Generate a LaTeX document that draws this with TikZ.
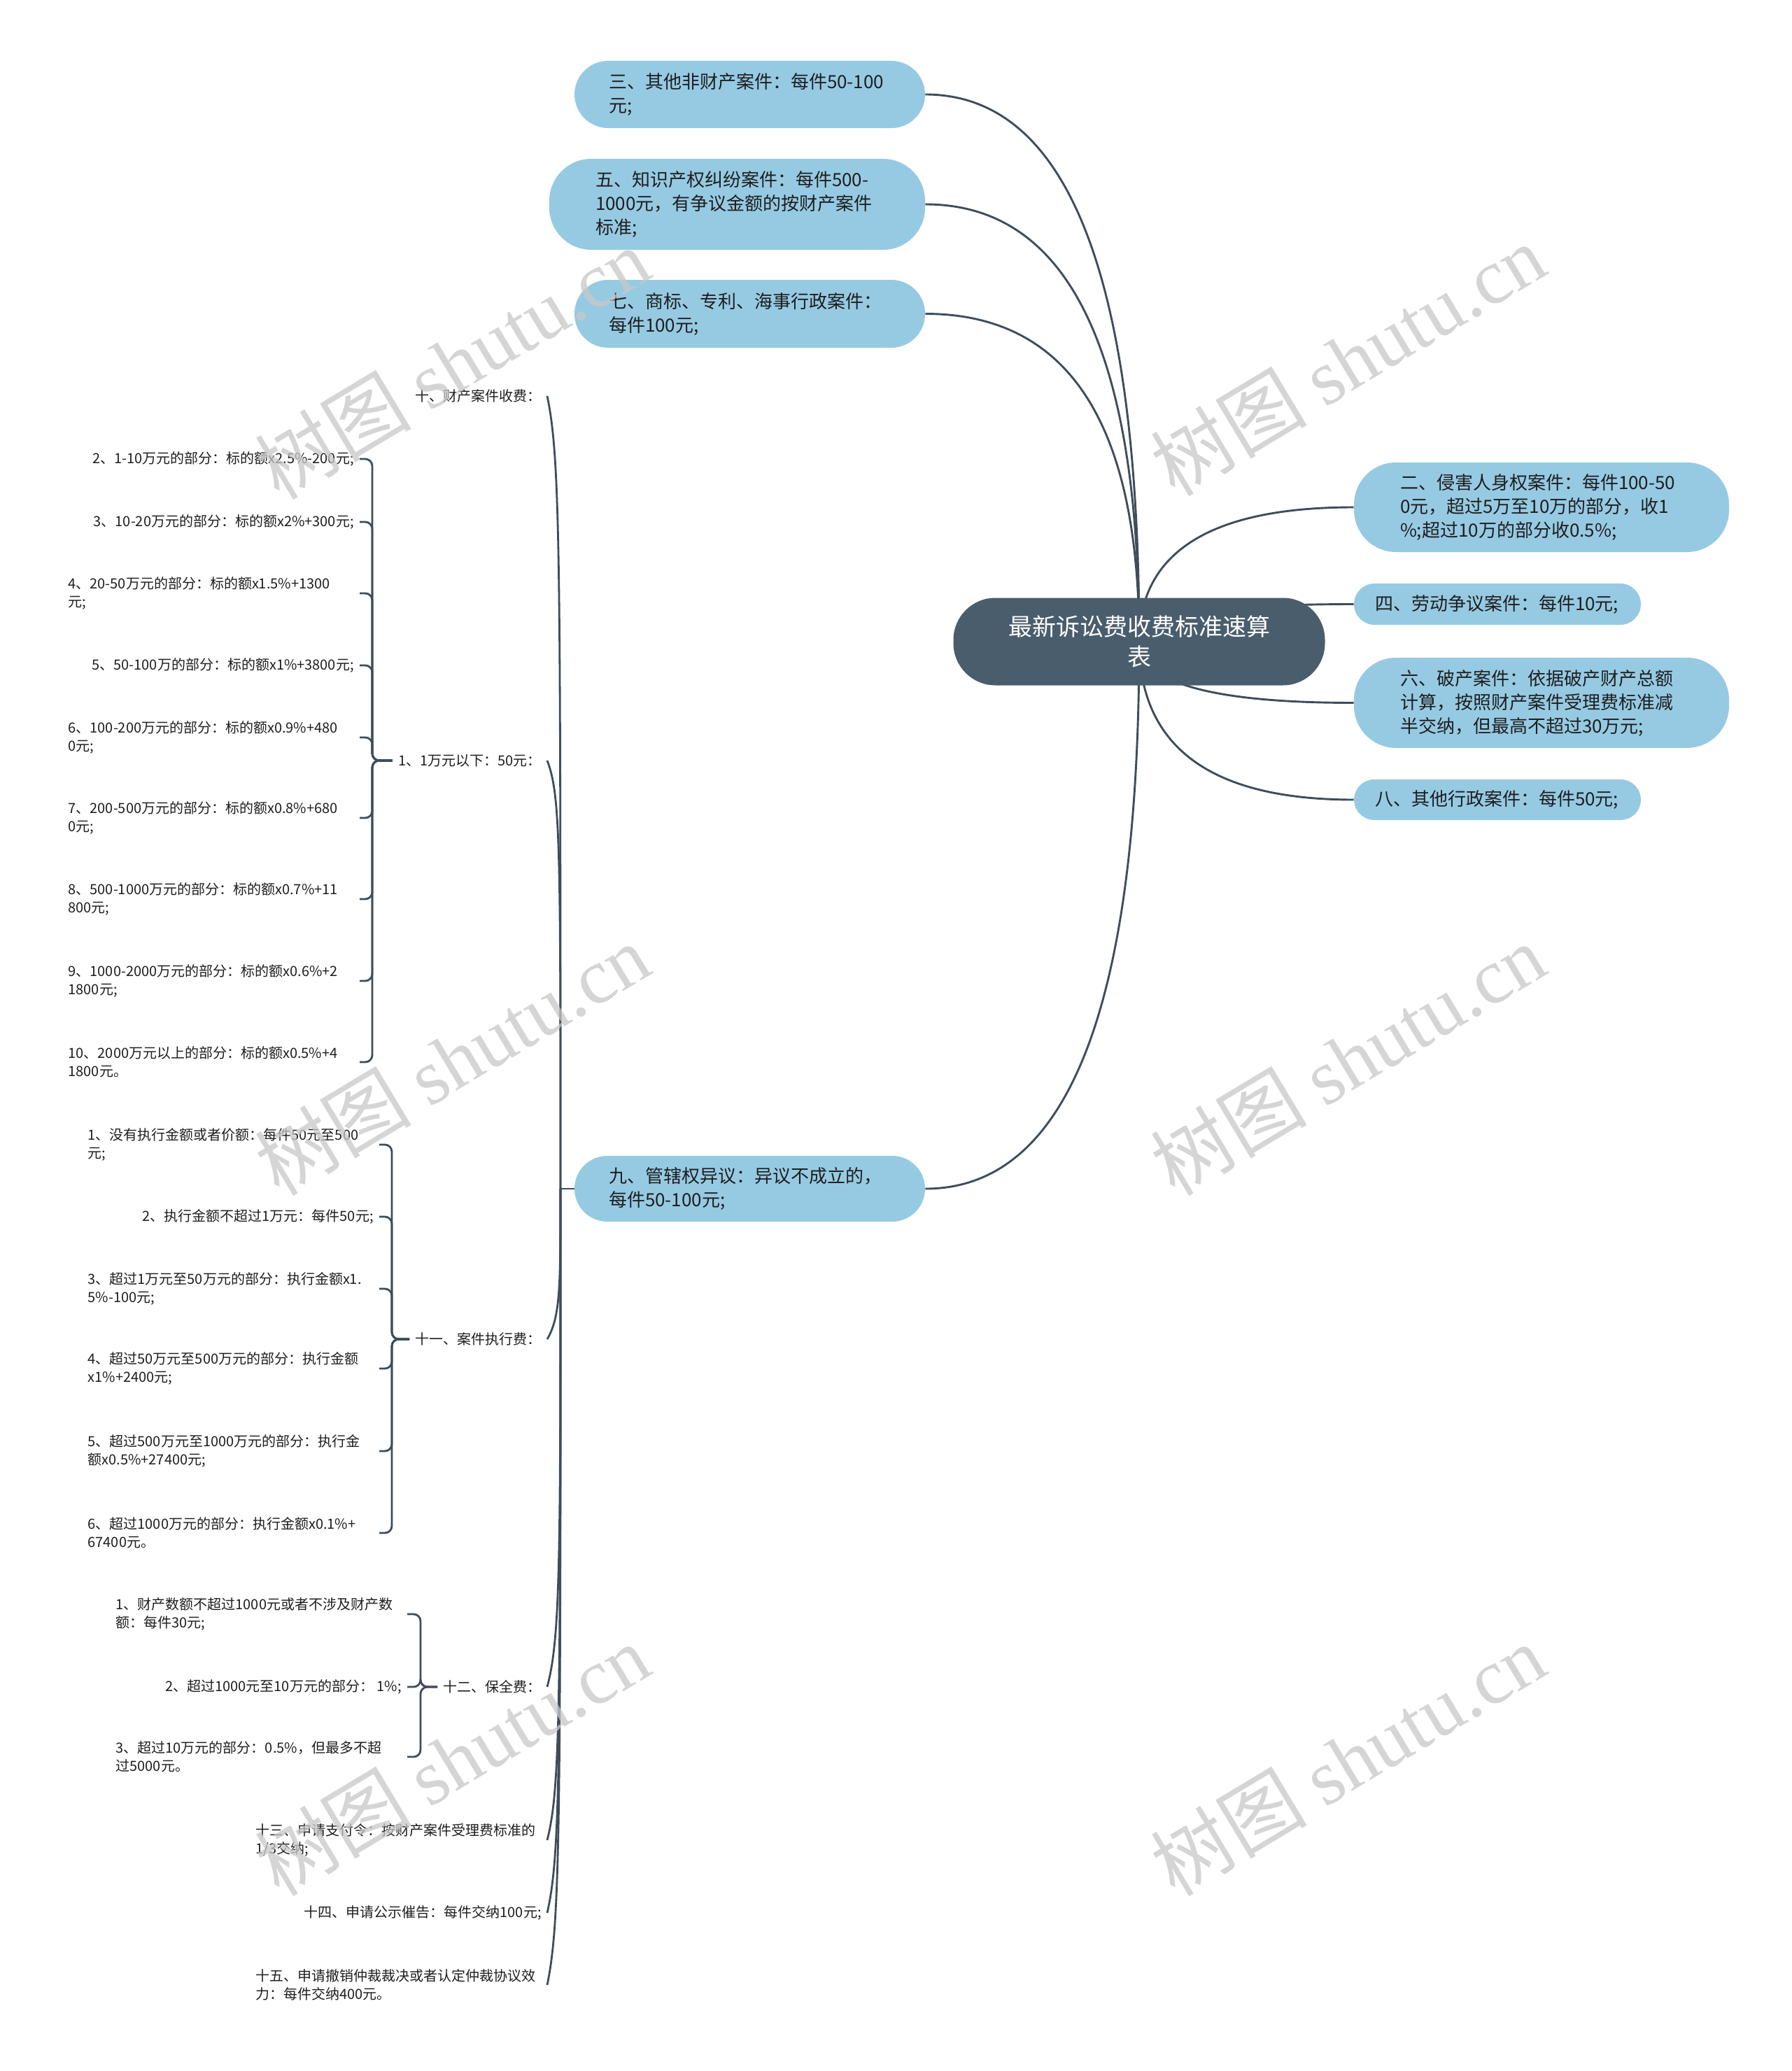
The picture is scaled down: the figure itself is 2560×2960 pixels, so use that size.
\documentclass[tikz,border=0pt]{standalone}
\usepackage{fontspec}
\setmainfont{Noto Sans CJK SC}
\newfontfamily\wmlatin{Liberation Serif}
\usetikzlibrary{calc}
\pgfdeclarelayer{bg}
\pgfdeclarelayer{fg}
\pgfsetlayers{bg,main,fg}
\definecolor{rootfill}{RGB}{74,93,108}
\definecolor{bluefill}{RGB}{150,202,227}
\definecolor{linec}{RGB}{62,77,90}
\definecolor{txt}{RGB}{30,30,30}
\definecolor{wm}{RGB}{200,200,200}
\tikzset{
  rootnode/.style={rectangle, rounded corners=30pt, fill=rootfill, text=white,
    font=\fontsize{17pt}{21.5pt}\selectfont, align=center,
    minimum width=265.5pt, minimum height=62.5pt, inner sep=0pt},
  bluenode/.style={rectangle, fill=bluefill, text=txt,
    font=\fontsize{13pt}{17pt}\selectfont, align=left, inner ysep=0pt},
  leaf/.style={text=txt, font=\fontsize{10pt}{13.2pt}\selectfont, align=left,
    inner xsep=4pt, inner ysep=2pt, anchor=east},
  wide/.style={text width=204pt},
  mainline/.style={draw=linec, line width=1.45pt},
  subline/.style={draw=linec, line width=1.4pt},
  brace/.style={draw=linec, line width=1.4pt, rounded corners=5pt},
  wmark/.style={text=wm, opacity=0.75, rotate=31, font=\fontsize{56pt}{60pt}\selectfont, inner sep=0pt}
}
\newcommand{\rbranch}[1]{%
  \path (root.center |- #1) coordinate (q);
  \draw[mainline] (root.center) .. controls ($(root.center)!0.667!(q)$) and ($(#1)!0.667!(q)$) .. (#1);}
\newcommand{\nbranch}[3]{%
  \path ($(#1.east)!#2!(s)$) coordinate (#1-p1) ($(#1.east)!#3!(s)$) coordinate (#1-p2);
  \draw[subline] (#1.east) .. controls (s |- #1-p1) and (s |- #1-p2) .. (s);}
\begin{document}
\begin{tikzpicture}[x=0.5pt,y=-0.5pt]
\begin{pgfonlayer}{bg}
\fill[white] (0,0) rectangle (2560,2960);
\end{pgfonlayer}
\useasboundingbox (0,0) rectangle (2560,2960);

% root
\node[rootnode] (root) at (1628,917) {最新诉讼费收费标准速算\\表};

% left top blue nodes
\node[bluenode, text width=201.5pt, inner xsep=24.5pt, minimum height=48pt, rounded corners=24pt] (three) at (1071.5,135) {三、其他非财产案件：每件50-100\\元;};
\node[bluenode, text width=202.5pt, inner xsep=33pt, minimum height=65pt, rounded corners=30pt] (five) at (1053.5,292) {五、知识产权纠纷案件：每件500-\\1000元，有争议金额的按财产案件\\标准;};
\node[bluenode, text width=201.5pt, inner xsep=24.5pt, minimum height=48.5pt, rounded corners=24pt] (seven) at (1071.5,448.5) {七、商标、专利、海事行政案件：\\每件100元;};
\node[bluenode, text width=201.5pt, inner xsep=24.5pt, minimum height=47pt, rounded corners=23.5pt] (nine) at (1071.5,1699) {九、管辖权异议：异议不成立的，\\每件50-100元;};

% right blue nodes
\node[bluenode, text width=202pt, inner xsep=33pt, minimum height=64pt, rounded corners=30pt] (two) at (2203,725) {二、侵害人身权案件：每件100-50\\0元，超过5万至10万的部分，收1\\\%;超过10万的部分收0.5\%;};
\node[bluenode, text width=175pt, inner xsep=15pt, minimum height=29.5pt, rounded corners=14.75pt] (four) at (2140,863.5) {四、劳动争议案件：每件10元;};
\node[bluenode, text width=202pt, inner xsep=33pt, minimum height=64.5pt, rounded corners=30pt] (six) at (2203,1004.5) {六、破产案件：依据破产财产总额\\计算，按照财产案件受理费标准减\\半交纳，但最高不超过30万元;};
\node[bluenode, text width=175pt, inner xsep=15pt, minimum height=29pt, rounded corners=14.5pt] (eight) at (2140,1143) {八、其他行政案件：每件50元;};

% children of nine
\node[leaf] (n10) at (782,566) {十、财产案件收费：};
\node[leaf] (A) at (782,1087) {1、1万元以下：50元：};
\node[leaf] (B) at (782,1914) {十一、案件执行费：};
\node[leaf] (C) at (782,2411) {十二、保全费：};
\node[leaf, wide] (n13) at (782,2630) {十三、申请支付令：按财产案件受理费标准的\\1/3交纳;};
\node[leaf] (n14) at (782,2734) {十四、申请公示催告：每件交纳100元;};
\node[leaf, wide] (n15) at (782,2837) {十五、申请撤销仲裁裁决或者认定仲裁协议效\\力：每件交纳400元。};

% group A
\node[leaf] (a2) at (514,656) {2、1-10万元的部分：标的额x2.5\%-200元;};
\node[leaf] (a3) at (514,746) {3、10-20万元的部分：标的额x2\%+300元;};
\node[leaf, wide] (a4) at (514,848) {4、20-50万元的部分：标的额x1.5\%+1300\\元;};
\node[leaf] (a5) at (514,951) {5、50-100万的部分：标的额x1\%+3800元;};
\node[leaf, wide] (a6) at (514,1054) {6、100-200万元的部分：标的额x0.9\%+480\\0元;};
\node[leaf, wide] (a7) at (514,1169) {7、200-500万元的部分：标的额x0.8\%+680\\0元;};
\node[leaf, wide] (a8) at (514,1285) {8、500-1000万元的部分：标的额x0.7\%+11\\800元;};
\node[leaf, wide] (a9) at (514,1402) {9、1000-2000万元的部分：标的额x0.6\%+2\\1800元;};
\node[leaf, wide] (a10) at (514,1518) {10、2000万元以上的部分：标的额x0.5\%+4\\1800元。};

% group B
\node[leaf, wide] (b1) at (542,1636) {1、没有执行金额或者价额：每件50元至500\\元;};
\node[leaf] (b2) at (542,1739) {2、执行金额不超过1万元：每件50元;};
\node[leaf, wide] (b3) at (542,1842) {3、超过1万元至50万元的部分：执行金额x1.\\5\%-100元;};
\node[leaf, wide] (b4) at (542,1956) {4、超过50万元至500万元的部分：执行金额\\x1\%+2400元;};
\node[leaf, wide] (b5) at (542,2074) {5、超过500万元至1000万元的部分：执行金\\额x0.5\%+27400元;};
\node[leaf, wide] (b6) at (542,2191) {6、超过1000万元的部分：执行金额x0.1\%+\\67400元。};

% group C
\node[leaf, wide] (c1) at (582,2307) {1、财产数额不超过1000元或者不涉及财产数\\额：每件30元;};
\node[leaf] (c2) at (582,2411) {2、超过1000元至10万元的部分：\ 1\%;};
\node[leaf, wide] (c3) at (582,2511) {3、超过10万元的部分：0.5\%，但最多不超\\过5000元。};

\coordinate (s) at (801,1699);
\coordinate (Ab) at (532,1087);
\coordinate (Bb) at (560,1914);
\coordinate (Cb) at (601,2411);

\begin{pgfonlayer}{bg}
  \rbranch{three.east}
  \rbranch{five.east}
  \rbranch{seven.east}
  \rbranch{nine.east}
  \rbranch{two.west}
  \rbranch{four.west}
  \rbranch{six.west}
  \rbranch{eight.west}
  \draw[subline] (nine.west) -- (s);
  \nbranch{n10}{0.08}{0.2}
  \nbranch{A}{0.08}{0.2}
  \nbranch{B}{0.15}{0.35}
  \nbranch{C}{0.1}{0.25}
  \nbranch{n13}{0.08}{0.2}
  \nbranch{n14}{0.08}{0.2}
  \nbranch{n15}{0.08}{0.2}
  \foreach \k in {a2,a3,a4,a5,a6,a7,a8,a9,a10}{\draw[brace] (\k.east) -| (Ab) -- (A.west);}
  \foreach \k in {b1,b2,b3,b4,b5,b6}{\draw[brace] (\k.east) -| (Bb) -- (B.west);}
  \foreach \k in {c1,c2,c3}{\draw[brace] (\k.east) -| (Cb) -- (C.west);}
\end{pgfonlayer}

\begin{pgfonlayer}{fg}
  \node[wmark] (w1) at (646,519) {树图 {\wmlatin shutu.cn}};
  \node[wmark] (w2) at (1926,514) {树图 {\wmlatin shutu.cn}};
  \node[wmark] (w3) at (646,1514) {树图 {\wmlatin shutu.cn}};
  \node[wmark] (w4) at (1926,1514) {树图 {\wmlatin shutu.cn}};
  \node[wmark] (w5) at (646,2515) {树图 {\wmlatin shutu.cn}};
  \node[wmark] (w6) at (1926,2515) {树图 {\wmlatin shutu.cn}};
\end{pgfonlayer}
\end{tikzpicture}
\end{document}
